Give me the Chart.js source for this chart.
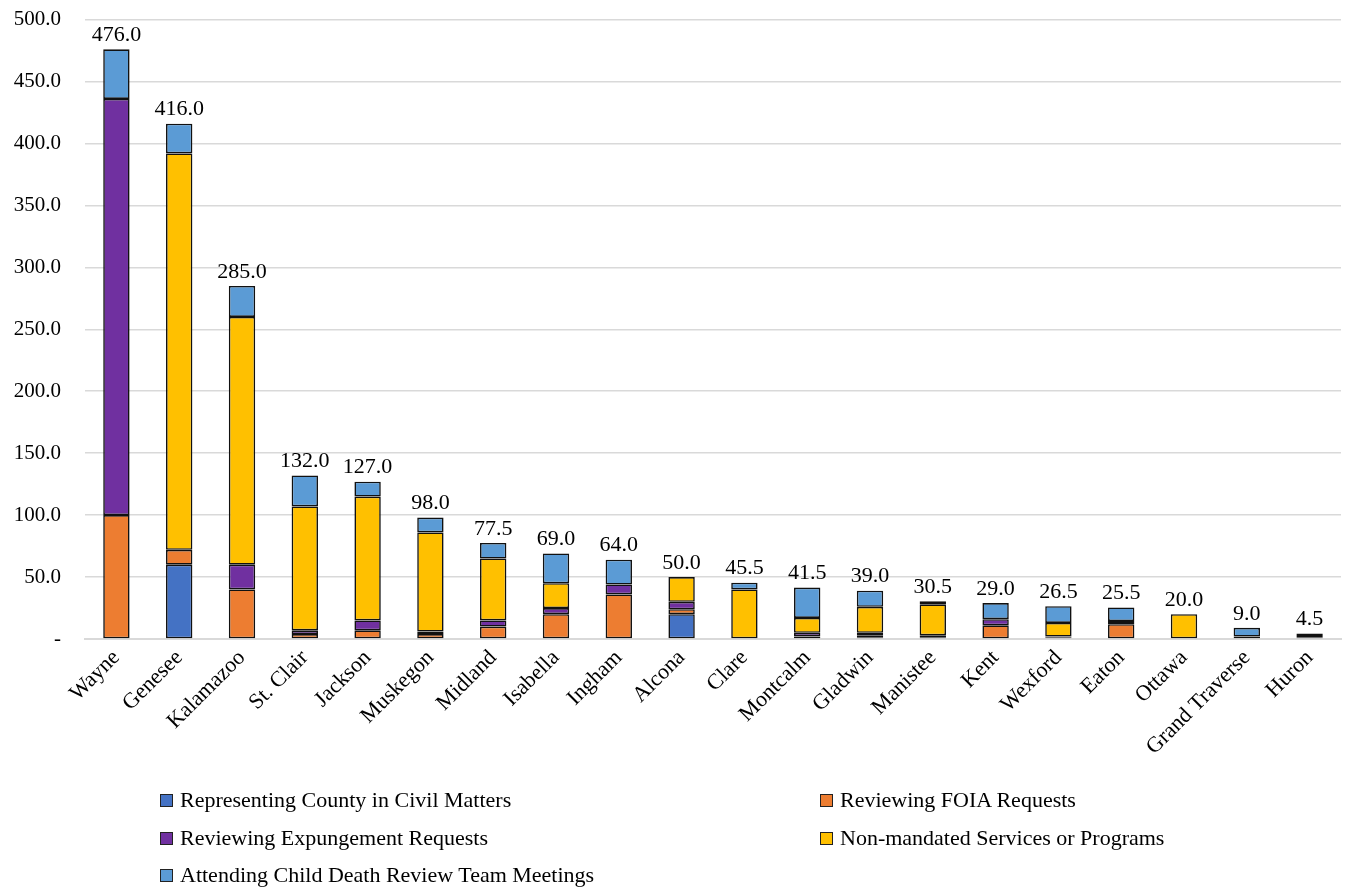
<!DOCTYPE html>
<html>
<head>
<meta charset="utf-8">
<script src="https://cdn.jsdelivr.net/npm/chart.js@4.4.1/dist/chart.umd.min.js"></script>
<style>
  html, body { margin: 0; padding: 0; background: #fff; }
  #wrap { position: relative; width: 1352px; height: 888px; overflow: hidden; }
  #chart { position: absolute; left: 0; top: -17px; }
  #legend { position: absolute; left: 0; top: 0; width: 1352px; height: 888px; pointer-events: none;
            font-family: "Liberation Serif", serif; font-size: 22px; color: #000; }
  .item { position: absolute; display: flex; align-items: center; white-space: nowrap; }
  .box { width: 11px; height: 11px; border: 1px solid #222; margin-right: 7px; }
</style>
</head>
<body>
<div id="wrap">
  <canvas id="chart" width="1352" height="905"></canvas>
  <div id="legend"></div>
</div>
<script>
// counties, sorted by total
const counties = ['Wayne', 'Genesee', 'Kalamazoo', 'St. Clair', 'Jackson', 'Muskegon', 'Midland', 'Isabella',
  'Ingham', 'Alcona', 'Clare', 'Montcalm', 'Gladwin', 'Manistee', 'Kent', 'Wexford', 'Eaton', 'Ottawa',
  'Grand Traverse', 'Huron'];

// hours per activity
const civilMatters = [0, 60, 0, 0, 0, 0, 0, 0, 0, 20, 0, 0, 1, 0, 0, 0, 0, 0, 0, 0];
const foiaRequests = [100, 12, 40, 4, 7, 4, 10, 20, 36, 4, 0, 2, 2, 1, 11, 1, 12, 0, 0, 1];
const expungement = [336, 0, 20, 3, 8, 2, 5, 5, 8, 6, 0, 3, 2, 2, 5, 1, 0, 0, 2, 1.5];
const nonMandated = [0, 320, 200, 100, 100, 80, 50, 20, 0, 20, 40, 12, 21, 25, 0, 11, 2.5, 20, 0, 0];
const childDeath = [40, 24, 25, 25, 12, 12, 12.5, 24, 20, 0, 5.5, 24.5, 13, 2.5, 13, 13.5, 11, 0, 7, 2];

const seriesNames = ['Representing County in Civil Matters', 'Reviewing FOIA Requests',
  'Reviewing Expungement Requests', 'Non-mandated Services or Programs', 'Attending Child Death Review Team Meetings'];
const seriesColors = ['#4472C4', '#ED7D31', '#7030A0', '#FFC000', '#5B9BD5'];
const seriesData = [civilMatters, foiaRequests, expungement, nonMandated, childDeath];

const yTicks = [0, 50, 100, 150, 200, 250, 300, 350, 400, 450, 500];

const FONT = '"Liberation Serif", serif';

// total label above each stack
const totalLabels = {
  id: 'totalLabels',
  afterDatasetsDraw(chart) {
    const ctx = chart.ctx;
    const yScale = chart.scales.y;
    const meta = chart.getDatasetMeta(0);
    ctx.save();
    ctx.font = '22px ' + FONT;
    ctx.fillStyle = '#000';
    ctx.textAlign = 'center';
    ctx.textBaseline = 'bottom';
    counties.forEach((c, i) => {
      let total = 0;
      seriesData.forEach(s => total += s[i]);
      let x = meta.data[i].x;
      let y = yScale.getPixelForValue(total);
      ctx.fillText(total.toFixed(1), x, y - 3);
    });
    ctx.restore();
  }
};

let datasets = seriesNames.map((name, k) => ({
  label: name,
  data: seriesData[k],
  backgroundColor: seriesColors[k],
  borderColor: '#111',
  borderWidth: 1.6,
  borderSkipped: false,
  barPercentage: 0.42,
  categoryPercentage: 1.0
}));

new Chart(document.getElementById('chart'), {
  type: 'bar',
  data: { labels: counties, datasets: datasets },
  plugins: [totalLabels],
  options: {
    responsive: false,
    animation: false,
    layout: { padding: { top: 2, right: 11, left: 0, bottom: 0 } },
    plugins: {
      legend: { display: false },
      tooltip: { enabled: false }
    },
    scales: {
      x: {
        stacked: true,
        grid: { display: false, drawTicks: false },
        border: { color: '#d9d9d9', width: 2 },
        ticks: {
          color: '#000',
          font: { family: FONT, size: 22 },
          minRotation: 45,
          maxRotation: 45,
          padding: 6,
          autoSkip: false
        },
        afterFit: s => { s.height = 888 - 639; }
      },
      y: {
        stacked: true,
        min: 0,
        max: 500,
        afterBuildTicks: s => { s.ticks = yTicks.map(v => ({ value: v })); },
        grid: { color: '#d9d9d9', lineWidth: 1.5, drawTicks: false },
        border: { display: false },
        ticks: {
          color: '#000',
          font: { family: FONT, size: 21 },
          padding: 24,
          callback: v => v === 0 ? '-' : v.toFixed(1)
        },
        afterFit: s => { s.width = 85; }
      }
    }
  }
});

// legend in two columns under the chart
const legendPos = [[160, 800], [820, 800], [160, 838], [820, 838], [160, 875]];
let legendHtml = '';
seriesNames.forEach((name, k) => {
  legendHtml += `<div class="item" style="left:${legendPos[k][0]}px;top:${legendPos[k][1] - 13}px">` +
    `<span class="box" style="background:${seriesColors[k]}"></span>${name}</div>`;
});
document.getElementById('legend').innerHTML = legendHtml;
</script>
</body>
</html>
